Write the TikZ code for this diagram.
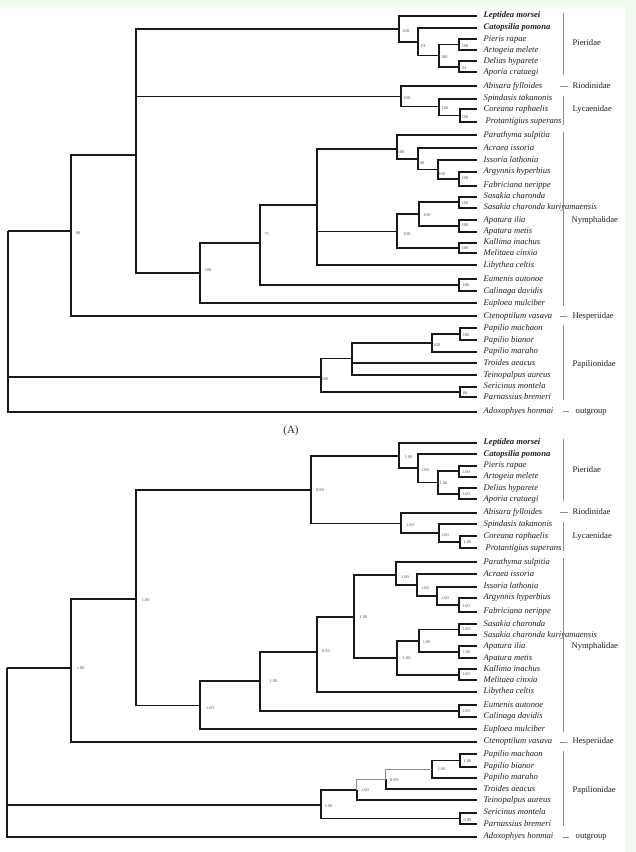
\documentclass[tikz,border=0pt]{standalone}
\usepackage{fontspec}
\setmainfont{Liberation Serif}
\definecolor{bggreen}{RGB}{239,251,239}
\begin{document}
\begin{tikzpicture}[x=1pt,y=-1pt,
  branch/.style={line width=1.65pt,black!90},
  thinbranch/.style={line width=0.7pt,black!45},
  taxon/.style={anchor=west,inner sep=0pt,text height=6pt,text depth=2pt,font=\fontsize{8.6}{9}\selectfont\itshape,text=black!88},
  bs/.style={inner sep=0pt,text height=3pt,text depth=0pt,font=\fontsize{4.3}{5}\selectfont,text=black!70},
  grp/.style={anchor=west,inner sep=0pt,text height=6pt,text depth=2pt,font=\fontsize{8.6}{9}\selectfont,text=black!88},
  bar/.style={line width=0.8pt,black!45}]
\fill[bggreen] (0,0) rectangle (636,852);
\fill[white] (0,6) rectangle (625,852);
\useasboundingbox (0,0) rectangle (636,852);

% ---------- leaves of both trees ----------
\foreach \i/\ya/\yb/\txt in {
 1/15.7/442.7/{\textbf{Leptidea morsei}},
 2/27.7/454/{\textbf{Catopsilia pomona}},
 3/39/465.7/{Pieris rapae},
 4/50/476.7/{Artogeia melete},
 5/61.3/488.3/{Delias hyparete},
 6/72.3/499.3/{Aporia crataegi},
 7/86/512.7/{Abisara fylloides},
 8/98.7/524.3/{Spindasis takanonis},
 9/109/536/{Coreana raphaelis},
 10/121.7/548.3/{\hspace*{2pt}Protantigius superans},
 11/135/562.3/{Parathyma sulpitia},
 12/148.3/574.3/{Acraea issoria},
 13/160/586.7/{Issoria lathonia},
 14/171.7/597.7/{Argynnis hyperbius},
 15/185.7/611.7/{Fabriciana nerippe},
 16/196.7/624/{Sasakia charonda},
 17/207.7/635/{Sasakia charonda kuriyamaensis},
 18/220/646/{Apatura ilia},
 19/231.7/658.3/{Apatura metis},
 20/242.7/669.3/{Kallima inachus},
 21/253.3/680/{Melitaea cinxia},
 22/265/691.7/{Libythea celtis},
 23/279.3/705/{Eumenis autonoe},
 24/291/716.7/{Calinaga davidis},
 25/303.3/729.3/{Euploea mulciber},
 26/316/741.7/{Ctenoptilum vasava},
 27/328.3/754.3/{Papilio machaon},
 28/340/766.7/{Papilio bianor},
 29/351.7/777.7/{Papilio maraho},
 30/363.3/789.3/{Troides aeacus},
 31/375/800/{Teinopalpus aureus},
 32/386.7/812.7/{Sericinus montela},
 33/397/824.3/{Parnassius bremeri},
 34/411.7/836.7/{Adoxophyes honmai}}{
 \coordinate (a\i) at (477,\ya);
 \coordinate (b\i) at (477,\yb);
 \node[taxon] (ta\i) at (483.5,\ya) {\txt};
 \node[taxon] (tb\i) at (483.5,\yb) {\txt};
}

% ---------- tree A internal nodes ----------
\coordinate (rootA) at (8,230.7);
\coordinate (n88) at (71.3,230.7);
\coordinate (nB) at (135.7,155);
\coordinate (pierA) at (399,29);
\coordinate (n63) at (418.3,41.7);
\coordinate (n100c) at (439,55.6);
\coordinate (pa) at (459,44.5);
\coordinate (da) at (459,66.8);
\coordinate (rioA) at (400.7,96.5);
\coordinate (lyc1) at (439,106.5);
\coordinate (cp) at (460,115.4);
\coordinate (nymA) at (200.3,273.3);
\coordinate (n75) at (260,243);
\coordinate (nX) at (317.3,205);
\coordinate (para) at (396.7,149);
\coordinate (ac) at (417.7,159);
\coordinate (iss) at (438.3,169.4);
\coordinate (af) at (459,178.7);
\coordinate (sas) at (397.3,231.5);
\coordinate (sa2) at (419.3,214);
\coordinate (sc) at (459,202.2);
\coordinate (ap) at (459,225.9);
\coordinate (km) at (459,248);
\coordinate (ec) at (459,285.2);
\coordinate (papA) at (320.7,377);
\coordinate (p2) at (352.3,358.5);
\coordinate (pm) at (432.3,343);
\coordinate (mb) at (460,334.2);
\coordinate (sp) at (460,392);

\foreach \p/\c in {rootA/n88,rootA/papA,rootA/a34,
 n88/nB,n88/a26,
 nB/pierA,nB/rioA,nB/nymA,
 pierA/a1,pierA/n63,n63/a2,n63/n100c,n100c/pa,n100c/da,
 pa/a3,pa/a4,da/a5,da/a6,
 rioA/a7,rioA/lyc1,lyc1/a8,lyc1/cp,cp/a9,cp/a10,
 nymA/n75,nymA/a25,n75/nX,n75/ec,
 nX/para,nX/sas,nX/a22,
 para/a11,para/ac,ac/a12,ac/iss,iss/a13,iss/af,af/a14,af/a15,
 sas/sa2,sas/km,sa2/sc,sa2/ap,sc/a16,sc/a17,ap/a18,ap/a19,km/a20,km/a21,
 ec/a23,ec/a24,
 papA/p2,papA/sp,p2/pm,p2/a30,p2/a31,pm/mb,pm/a29,mb/a27,mb/a28,
 sp/a32,sp/a33}{
 \draw[branch] (\p) |- (\c);
}

% support values A
\foreach \nm/\x/\y/\v in {
 lpierA/405.7/30.7/100, ln63/423.3/46/63, ln100c/444.3/56.7/100,
 lpa/465/45.7/100, lda/464/68.3/93, lrioA/406.7/98.3/100,
 llyc1/445/108.3/100, lcp/465/116.7/100,
 lpara/401/151.7/100, lac/421/162.7/100, liss/441.7/174.3/100, laf/465/178.3/100,
 lsas/406.7/233.7/100, lsa2/426.7/215/100, lsc/465/203.3/100,
 lap/465/225/100, lkm/465/247.7/100, lec/466/284.5/100,
 ln75/266.7/234.3/75, lnymA/208/270/100, ln88/78/233/88,
 lpapA/325/379/100, lpm/436.7/345/100, lmb/466/335/100, lsp/465/393.3/80}{
 \node[bs] (\nm) at (\x,\y) {\v};
}

% ---------- tree B internal nodes ----------
\coordinate (rootB) at (7,668.3);
\coordinate (n1B) at (71.3,668.3);
\coordinate (n2B) at (135.7,599.3);
\coordinate (n099B) at (311,490);
\coordinate (pierB) at (399,456);
\coordinate (b63B) at (418.3,468.3);
\coordinate (b100cB) at (437.7,482.5);
\coordinate (paB) at (459,471.2);
\coordinate (daB) at (459,493.8);
\coordinate (rioB) at (400.7,523.5);
\coordinate (lyc1B) at (439,533.2);
\coordinate (cpB) at (460,542.2);
\coordinate (nymB) at (200.3,705.5);
\coordinate (n260B) at (260,681);
\coordinate (n093B) at (317.3,652);
\coordinate (n354B) at (354.3,616.7);
\coordinate (paraB) at (396,575);
\coordinate (acB) at (417.3,585);
\coordinate (issB) at (437.3,595.7);
\coordinate (afB) at (459,604.7);
\coordinate (sasB) at (397.3,657.7);
\coordinate (sa2B) at (419.3,640.8);
\coordinate (scB) at (459,629.5);
\coordinate (apB) at (459,652.2);
\coordinate (kmB) at (459,674.7);
\coordinate (ecB) at (459,710.9);
\coordinate (papB) at (320.7,805);
\coordinate (p2B) at (356.7,790);
\coordinate (t099B) at (385.7,779.3);
\coordinate (pmB) at (431.7,769);
\coordinate (mbB) at (460,760.5);
\coordinate (spB) at (460,818.5);

\foreach \p/\c in {rootB/n1B,rootB/papB,rootB/b34,
 n1B/n2B,n1B/b26,
 n2B/n099B,n2B/nymB,
 n099B/pierB,n099B/rioB,
 pierB/b1,pierB/b63B,b63B/b2,b63B/b100cB,b100cB/paB,b100cB/daB,
 paB/b3,paB/b4,daB/b5,daB/b6,
 rioB/b7,rioB/lyc1B,lyc1B/b8,lyc1B/cpB,cpB/b9,cpB/b10,
 nymB/n260B,nymB/b25,n260B/n093B,n260B/ecB,
 n093B/n354B,n093B/b22,n354B/paraB,n354B/sasB,
 paraB/b11,paraB/acB,acB/b12,acB/issB,issB/b13,issB/afB,afB/b14,afB/b15,
 sasB/sa2B,sasB/kmB,sa2B/scB,sa2B/apB,scB/b16,scB/b17,apB/b18,apB/b19,kmB/b20,kmB/b21,
 ecB/b23,ecB/b24,
 papB/p2B,papB/spB,p2B/b31,t099B/b30,pmB/mbB,pmB/b29,mbB/b27,mbB/b28,
 spB/b32,spB/b33}{
 \draw[branch] (\p) |- (\c);
}
\draw[thinbranch] (p2B) |- (t099B);
\draw[thinbranch] (t099B) |- (pmB);

% support values B
\foreach \nm/\x/\y/\v in {
 lpierB/408.3/457.3/1.00, lb63B/425/470/1.00, lb100cB/443.3/483.3/1.00,
 lpaB/466/471.7/1.00, ldaB/466/494.3/1.00, lrioB/410/525/1.00,
 llyc1B/445/535/1.00, lcpB/467.3/541.7/1.00,
 lparaB/405/577.3/1.00, lacB/425/587.7/1.00, lissB/445/597.7/1.00, lafB/466/606/1.00,
 lsasB/406.7/657.7/1.00, lsa2B/426.7/641.7/1.00, lscB/466/629.3/1.00,
 lapB/466.7/652.3/1.00, lkmB/466/674.3/1.00, lecB/466/710.7/1.00,
 ln260B/273.3/680.7/1.00, ln093B/326/650.7/0.93, ln354B/363.3/616.7/1.00,
 lnymB/210/708.3/1.00, ln2B/145.7/600/1.00, ln099B/320/490/0.99, ln1B/80.7/668.3/1.00,
 lpapB/328.3/805.7/1.00, lp2B/365/790.3/1.00, lt099B/394/780.3/0.99,
 lpmB/441.7/769/1.00, lmbB/467.3/760.7/1.00, lspB/467.3/820/0.99}{
 \node[bs] (\nm) at (\x,\y) {\v};
}

% ---------- family brackets ----------
\foreach \o in {0,426}{
 \draw[bar] (563.5,12.7+\o) -- (563.5,75.3+\o);
 \draw[bar] (560,86+\o) -- (568.3,86+\o);
 \draw[bar] (563.5,95.7+\o) -- (563.5,124.7+\o);
 \draw[bar] (563.5,132+\o) -- (563.5,306.3+\o);
 \draw[bar] (560,316+\o) -- (567,316+\o);
 \draw[bar] (563.5,325.3+\o) -- (563.5,400+\o);
 \draw[bar] (562.7,411.7+\o) -- (569.3,411.7+\o);
}
\node[grp] (gPierA) at (572.5,43.3) {Pieridae};
\node[grp] (gRioA) at (572.5,86) {Riodinidae};
\node[grp] (gLycA) at (572.5,109) {Lycaenidae};
\node[grp] (gNymA) at (571.5,220) {Nymphalidae};
\node[grp] (gHesA) at (572.5,316) {Hesperiidae};
\node[grp] (gPapA) at (572.5,364) {Papilionidae};
\node[grp] (gOutA) at (575.5,411.7) {outgroup};
\node[grp] (gPierB) at (572.5,470) {Pieridae};
\node[grp] (gRioB) at (572.5,512.7) {Riodinidae};
\node[grp] (gLycB) at (572.5,536) {Lycaenidae};
\node[grp] (gNymB) at (571.5,646.7) {Nymphalidae};
\node[grp] (gHesB) at (572.5,741.7) {Hesperiidae};
\node[grp] (gPapB) at (572.5,790) {Papilionidae};
\node[grp] (gOutB) at (575.5,836.7) {outgroup};

\node[inner sep=0pt,font=\fontsize{11}{12}\selectfont,text=black!85] (capA) at (291,431) {(A)};
\end{tikzpicture}
\end{document}
